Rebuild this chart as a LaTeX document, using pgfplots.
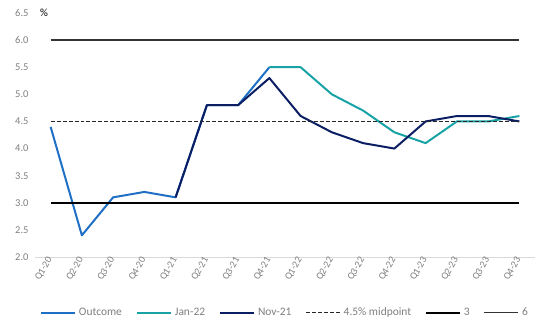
\documentclass[border=0pt]{standalone}
\usepackage{pgfplots}
\pgfplotsset{compat=1.18}
\usepackage{fontspec}
\setmainfont{Carlito}
\definecolor{outc}{HTML}{1F6FC5}
\definecolor{jan}{HTML}{17A2A6}
\definecolor{nov}{HTML}{0B1E63}
\definecolor{tickgrey}{HTML}{7F7F7F}
\begin{document}
\begin{tikzpicture}
\path[use as bounding box] (-35bp,-72bp) rectangle (515bp,257bp);
\begin{axis}[
  at={(0,0)}, anchor=south west,
  scale only axis, width=500bp, height=244bp,
  xmin=-0.5, xmax=15.5, ymin=2, ymax=6.5,
  axis x line*=bottom, axis y line*=left,
  x axis line style={draw=black!15, line width=0.8pt, -},
  y axis line style={draw=none},
  xtick={0,...,15},
  xticklabels={Q1-20,Q2-20,Q3-20,Q4-20,Q1-21,Q2-21,Q3-21,Q4-21,Q1-22,Q2-22,Q3-22,Q4-22,Q1-23,Q2-23,Q3-23,Q4-23},
  x tick label style={rotate=60, anchor=east, font=\fontsize{10}{11}\selectfont, text=tickgrey, inner sep=1pt},
  ytick={2,2.5,...,6.5},
  y tick label style={/pgf/number format/fixed, /pgf/number format/fixed zerofill, /pgf/number format/precision=1, font=\fontsize{10.5}{11}\selectfont, text=tickgrey, xshift=-3bp},
  /pgf/number format/assume math mode=true,
  major tick length=0pt,
  clip=false,
  legend style={at={(0.5,-0.2)}, anchor=north, draw=none, legend columns=-1,
    font=\fontsize{11.5}{12}\selectfont, text=tickgrey, inner sep=0pt,
    /tikz/every odd column/.append style={column sep=1pt},
    /tikz/every even column/.append style={column sep=12pt}},
  legend image code/.code={\draw[#1] (0bp,0bp) -- (34bp,0bp);},
]
\addplot[outc, line width=2pt, line join=round] coordinates {
 (0,4.4) (1,2.4) (2,3.1) (3,3.2) (4,3.1) (5,4.8) (6,4.8) (7,5.5)};
\addlegendentry{Outcome}
\addplot[jan, line width=2pt, line join=round] coordinates {
 (7,5.5) (8,5.5) (9,5.0) (10,4.7) (11,4.3) (12,4.1) (13,4.5) (14,4.5) (15,4.6)};
\addlegendentry{Jan-22}
\addplot[nov, line width=2pt, line join=round] coordinates {
 (4,3.1) (5,4.8) (6,4.8) (7,5.3) (8,4.6) (9,4.3) (10,4.1) (11,4.0) (12,4.5) (13,4.6) (14,4.6) (15,4.5)};
\addlegendentry{Nov-21}
\addplot[black!85, line width=1.3pt, dash pattern=on 4pt off 2pt] coordinates {(0,4.5) (15,4.5)};
\addlegendentry{4.5\% midpoint}
\addplot[black, line width=1.8pt] coordinates {(0,3) (15,3)};
\addlegendentry{3}
\addplot[black!80, line width=1.5pt] coordinates {(0,6) (15,6)};
\addlegendentry{6}
\node[anchor=west, font=\fontsize{11}{12}\selectfont] at (axis cs:-0.45,6.5) {\%};
\end{axis}
\end{tikzpicture}
\end{document}
